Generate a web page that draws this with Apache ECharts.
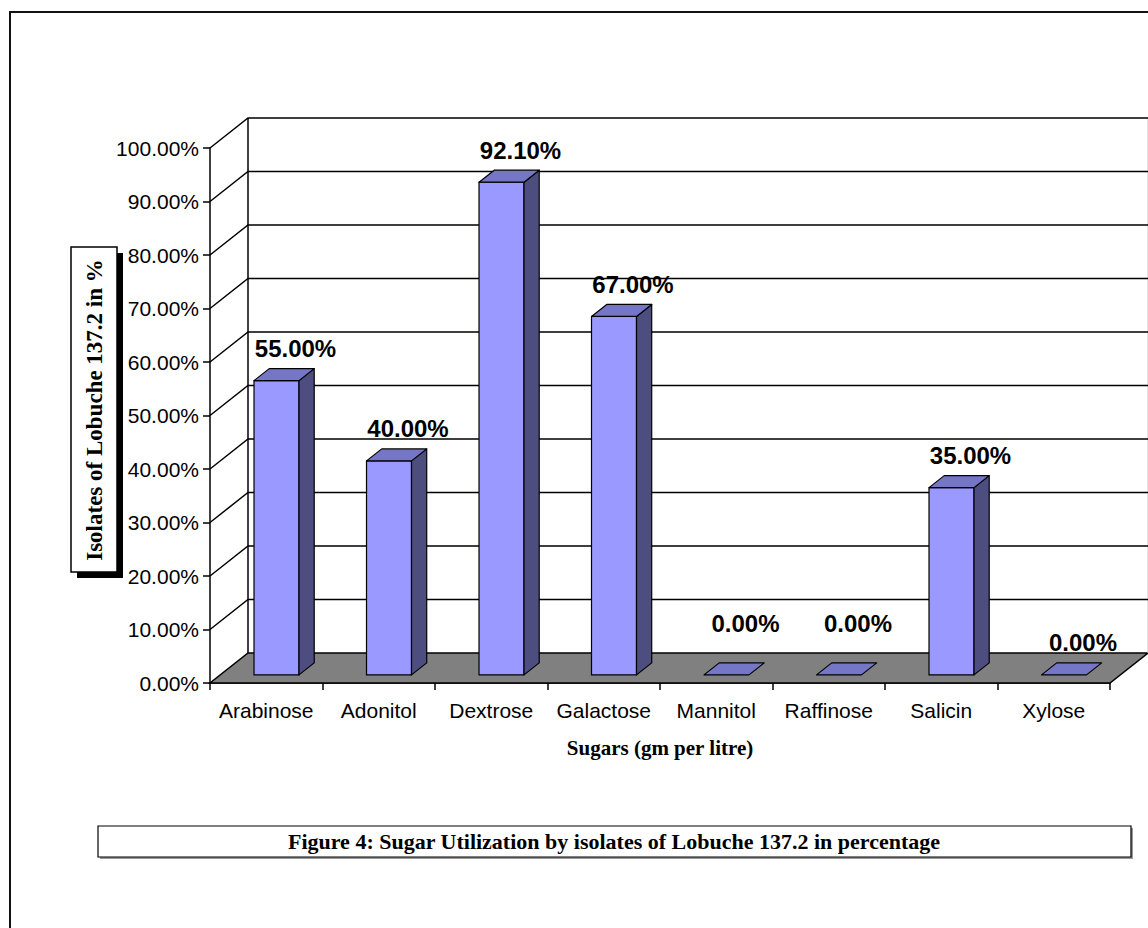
<!DOCTYPE html>
<html>
<head>
<meta charset="utf-8">
<title>Sugar Utilization by isolates of Lobuche 137.2</title>
<script src="https://cdn.jsdelivr.net/npm/echarts@6/dist/echarts.min.js"></script>
<style>
  html, body { margin: 0; padding: 0; background: #ffffff; }
  #chart { width: 1148px; height: 928px; }
</style>
</head>
<body>
<div id="chart"></div>
<script>
// Sugars tested and the share of isolates that utilised each one (fraction of 1)
const categories = ['Arabinose', 'Adonitol', 'Dextrose', 'Galactose', 'Mannitol', 'Raffinose', 'Salicin', 'Xylose'];
const utilization = [0.55, 0.40, 0.921, 0.67, 0.00, 0.00, 0.35, 0.00];

// Value axis ticks (0 % .. 100 % in steps of 10 %)
const yTicks = [0, 0.1, 0.2, 0.3, 0.4, 0.5, 0.6, 0.7, 0.8, 0.9, 1.0];

const xAxisTitle = 'Sugars (gm per litre)';
const yAxisTitle = 'Isolates of Lobuche 137.2 in %';
const caption = 'Figure 4: Sugar Utilization by isolates of Lobuche 137.2 in percentage';

// Oblique 3-D projection: screen offset of the back wall relative to the front plane
const DEPTH_X = 38;
const DEPTH_Y = -30;
// Bars sit between these fractions of the floor depth
const BAR_FRONT = 0.27;
const BAR_BACK = 0.67;
const BAR_WIDTH_RATIO = 0.4;

// Extra lift for a few value labels that sit higher above their flat bars
const extraLabelLift = { Mannitol: 19, Raffinose: 19 };

const FACE_FRONT = '#9999ff';
const FACE_TOP = '#7676c6';
const FACE_SIDE = '#4d4d80';

const pct = v => (v * 100).toFixed(2) + '%';
const sansFont = 'Arial, "Liberation Sans", Helvetica, sans-serif';
const serifFont = '"Times New Roman", "Liberation Serif", Times, serif';

const chart = echarts.init(document.getElementById('chart'), null, { renderer: 'svg' });

// Floor, left side wall and back wall with its grid lines
function renderFrame(params, api) {
  const cs = params.coordSys;
  const left = cs.x, right = cs.x + cs.width;
  const base = api.coord([0, 0])[1];
  const children = [];
  if (params.dataIndex === 0) {
    children.push({
      type: 'polygon',
      shape: { points: [[left, base], [right, base], [right + DEPTH_X, base + DEPTH_Y], [left + DEPTH_X, base + DEPTH_Y]] },
      style: { fill: '#808080', stroke: '#000', lineWidth: 1.5 }
    });
    const top = api.coord([0, yTicks[yTicks.length - 1]])[1];
    children.push({
      type: 'line',
      shape: { x1: left + DEPTH_X, y1: base + DEPTH_Y, x2: left + DEPTH_X, y2: top + DEPTH_Y },
      style: { stroke: '#000', lineWidth: 1.5 }
    });
    children.push({
      type: 'line',
      shape: { x1: right + DEPTH_X, y1: base + DEPTH_Y, x2: right + DEPTH_X, y2: top + DEPTH_Y },
      style: { stroke: '#c8c8c8', lineWidth: 1 }
    });
  } else {
    const y = api.coord([0, api.value(0)])[1];
    children.push({
      type: 'polyline',
      shape: { points: [[left, y], [left + DEPTH_X, y + DEPTH_Y], [right + DEPTH_X, y + DEPTH_Y]] },
      style: { stroke: '#000', lineWidth: 1.5, fill: null }
    });
  }
  return { type: 'group', children };
}

// A 3-D column: front face, right side and top, plus its value label
function renderBar(params, api) {
  const idx = api.value(0);
  const val = api.value(1);
  const topPt = api.coord([idx, val]);
  const basePt = api.coord([idx, 0]);
  const band = api.size([1, 0])[0];
  const bw = band * BAR_WIDTH_RATIO;
  const fx0 = topPt[0] - bw / 2 + BAR_FRONT * DEPTH_X;
  const fx1 = fx0 + bw;
  const fyTop = topPt[1] + BAR_FRONT * DEPTH_Y;
  const fyBase = basePt[1] + BAR_FRONT * DEPTH_Y;
  const dx = (BAR_BACK - BAR_FRONT) * DEPTH_X;
  const dy = (BAR_BACK - BAR_FRONT) * DEPTH_Y;
  const stroke = { stroke: '#000', lineWidth: 1.2, lineJoin: 'round' };
  const children = [];
  if (fyBase - fyTop > 0.5) {
    children.push({
      type: 'polygon',
      shape: { points: [[fx0, fyTop], [fx1, fyTop], [fx1, fyBase], [fx0, fyBase]] },
      style: Object.assign({ fill: FACE_FRONT }, stroke)
    });
    children.push({
      type: 'polygon',
      shape: { points: [[fx1, fyTop], [fx1 + dx, fyTop + dy], [fx1 + dx, fyBase + dy], [fx1, fyBase]] },
      style: Object.assign({ fill: FACE_SIDE }, stroke)
    });
  }
  children.push({
    type: 'polygon',
    shape: { points: [[fx0, fyTop], [fx1, fyTop], [fx1 + dx, fyTop + dy], [fx0 + dx, fyTop + dy]] },
    style: Object.assign({ fill: FACE_TOP }, stroke)
  });
  const lift = 32 + (extraLabelLift[categories[idx]] || 0);
  children.push({
    type: 'text',
    x: fx0 + bw / 2 + 19,
    y: fyTop - lift,
    style: {
      text: pct(val),
      fill: '#000',
      font: 'bold 24px ' + sansFont,
      align: 'center',
      verticalAlign: 'middle'
    },
    z2: 10
  });
  return { type: 'group', children };
}

chart.setOption({
  backgroundColor: '#ffffff',
  animation: false,
  grid: { left: 210, top: 148, width: 900, height: 535 },
  xAxis: {
    type: 'category',
    data: categories,
    boundaryGap: true,
    axisLine: { show: true, lineStyle: { color: '#000', width: 1.5 } },
    axisTick: { show: true, length: 7, lineStyle: { color: '#000', width: 1.5 } },
    axisLabel: { interval: 0, color: '#000', fontFamily: sansFont, fontSize: 21, margin: 17 },
    splitLine: { show: false },
    name: xAxisTitle,
    nameLocation: 'middle',
    nameGap: 54,
    nameTextStyle: { color: '#000', fontFamily: serifFont, fontWeight: 'bold', fontSize: 21 }
  },
  yAxis: {
    type: 'value',
    min: 0,
    max: 1,
    interval: 0.1,
    axisLine: { show: true, lineStyle: { color: '#000', width: 1.5 } },
    axisTick: { show: true, length: 7, lineStyle: { color: '#000', width: 1.5 } },
    axisLabel: { color: '#000', fontFamily: sansFont, fontSize: 21, margin: 11, formatter: v => pct(v) },
    splitLine: { show: false }
  },
  graphic: [
    // page frame
    { type: 'rect', shape: { x: 10, y: 12, width: 1300, height: 1100 },
      style: { fill: null, stroke: '#111', lineWidth: 2 }, z: 0 },
    // value-axis title box with drop shadow
    { type: 'rect', shape: { x: 77, y: 253, width: 46, height: 325 }, style: { fill: '#000' }, z: 5 },
    { type: 'rect', shape: { x: 71, y: 247, width: 46, height: 325 },
      style: { fill: '#fff', stroke: '#000', lineWidth: 1.5 }, z: 6 },
    { type: 'text', x: 94, y: 410, rotation: Math.PI / 2, z: 7,
      style: { text: yAxisTitle, fill: '#000', font: 'bold 23px ' + serifFont, align: 'center', verticalAlign: 'middle' } },
    // caption box
    { type: 'rect', shape: { x: 100, y: 828, width: 1033, height: 31 }, style: { fill: '#9a9a9a' }, z: 5 },
    { type: 'rect', shape: { x: 98, y: 826, width: 1033, height: 31 },
      style: { fill: '#fff', stroke: '#000', lineWidth: 1.2 }, z: 6 },
    { type: 'text', x: 614, y: 841, z: 7,
      style: { text: caption, fill: '#000', font: 'bold 22px ' + serifFont, align: 'center', verticalAlign: 'middle' } }
  ],
  series: [
    {
      type: 'custom',
      name: 'frame',
      clip: false,
      silent: true,
      z: 1,
      data: yTicks.map(v => [v]),
      encode: { y: 0 },
      renderItem: renderFrame
    },
    {
      type: 'custom',
      name: 'Sugar utilization',
      clip: false,
      z: 3,
      data: utilization.map((v, i) => [i, v]),
      encode: { x: 0, y: 1 },
      renderItem: renderBar
    }
  ]
});
</script>
</body>
</html>
